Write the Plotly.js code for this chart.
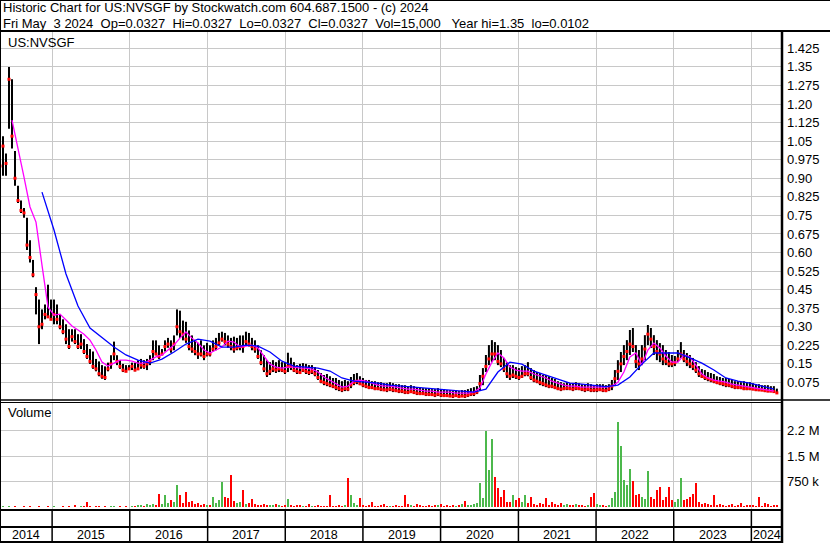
<!DOCTYPE html>
<html><head><meta charset="utf-8">
<script src="https://cdn.plot.ly/plotly-3.0.1.min.js"></script>
<style>html,body{margin:0;padding:0;background:#fff;}#chart{width:830px;height:543px;}</style>
</head><body><div id="chart"></div>
<script>
// ---------- text ----------
const symbolLabel = 'US:NVSGF';
const titleLine1 = 'Historic Chart for US:NVSGF by Stockwatch.com 604.687.1500 - (c) 2024';
const titleLine2 = 'Fri May  3 2024  Op=0.0327  Hi=0.0327  Lo=0.0327  Cl=0.0327  Vol=15,000   Year hi=1.35  lo=0.0102';
const volumeLabel = 'Volume';

// ---------- sampling grid (one bar per ~2 weeks) ----------
const startDate = '2014-05-01';
const stepDays = 14.1;

// ---------- price data (US$) ----------
const high = [
1.10,1.07,1.00,1.35,1.30,1.01,0.87,0.81,0.78,0.74,
0.65,0.57,0.46,0.41,0.37,0.39,0.47,0.41,0.41,0.39,
0.35,0.33,0.31,0.29,0.29,0.29,0.27,0.27,0.25,0.23,
0.21,0.20,0.17,0.16,0.145,0.14,0.155,0.185,0.24,0.185,
0.165,0.15,0.145,0.145,0.155,0.155,0.165,0.17,0.165,0.17,
0.185,0.245,0.245,0.225,0.21,0.245,0.255,0.245,0.265,0.37,
0.365,0.325,0.32,0.285,0.265,0.245,0.235,0.245,0.225,0.235,
0.225,0.245,0.255,0.275,0.28,0.275,0.265,0.255,0.26,0.255,
0.265,0.265,0.28,0.275,0.255,0.245,0.225,0.205,0.185,0.165,
0.157,0.165,0.157,0.165,0.157,0.157,0.195,0.175,0.157,0.145,
0.15,0.153,0.15,0.145,0.145,0.137,0.125,0.113,0.105,0.109,
0.10,0.093,0.093,0.085,0.08,0.085,0.08,0.097,0.109,0.113,
0.10,0.093,0.085,0.085,0.08,0.08,0.076,0.076,0.072,0.072,
0.076,0.072,0.068,0.068,0.064,0.064,0.06,0.064,0.06,0.056,
0.056,0.052,0.052,0.052,0.048,0.048,0.052,0.048,0.048,0.044,
0.044,0.04,0.044,0.04,0.044,0.044,0.048,0.052,0.056,0.06,
0.105,0.133,0.186,0.226,0.246,0.238,0.226,0.206,0.174,0.157,
0.145,0.145,0.137,0.133,0.141,0.145,0.157,0.133,0.125,0.117,
0.113,0.105,0.105,0.10,0.093,0.089,0.08,0.076,0.072,0.076,
0.072,0.072,0.076,0.072,0.068,0.068,0.072,0.068,0.064,0.068,
0.068,0.068,0.064,0.068,0.085,0.125,0.165,0.198,0.226,0.246,
0.287,0.295,0.226,0.206,0.226,0.266,0.307,0.295,0.266,0.246,
0.234,0.226,0.206,0.198,0.186,0.182,0.206,0.238,0.206,0.194,
0.186,0.174,0.157,0.141,0.129,0.125,0.117,0.113,0.109,0.10,
0.097,0.093,0.093,0.089,0.085,0.08,0.08,0.076,0.08,0.076,
0.076,0.072,0.068,0.068,0.064,0.064,0.064,0.06,0.06,0.05
];
const low = [
0.90,0.91,0.91,1.10,1.02,0.87,0.80,0.76,0.74,0.61,
0.56,0.50,0.35,0.23,0.29,0.33,0.34,0.33,0.31,0.31,
0.29,0.27,0.23,0.21,0.24,0.23,0.21,0.21,0.19,0.17,
0.15,0.13,0.12,0.10,0.09,0.085,0.12,0.13,0.165,0.145,
0.13,0.117,0.117,0.125,0.125,0.12,0.125,0.13,0.13,0.125,
0.145,0.165,0.185,0.17,0.185,0.20,0.215,0.195,0.205,0.265,
0.255,0.245,0.235,0.205,0.195,0.185,0.17,0.18,0.165,0.18,
0.18,0.20,0.205,0.225,0.24,0.225,0.215,0.205,0.195,0.205,
0.205,0.195,0.225,0.22,0.205,0.195,0.17,0.145,0.117,0.097,
0.105,0.117,0.113,0.117,0.117,0.109,0.117,0.125,0.117,0.109,
0.109,0.117,0.109,0.105,0.109,0.10,0.085,0.072,0.064,0.06,
0.056,0.052,0.044,0.04,0.036,0.04,0.04,0.052,0.064,0.068,
0.064,0.056,0.052,0.048,0.048,0.044,0.044,0.04,0.04,0.036,
0.04,0.036,0.036,0.032,0.032,0.028,0.028,0.032,0.028,0.024,
0.024,0.024,0.02,0.02,0.02,0.016,0.02,0.016,0.016,0.016,
0.016,0.012,0.016,0.012,0.016,0.012,0.016,0.02,0.02,0.028,
0.044,0.064,0.117,0.145,0.157,0.165,0.145,0.137,0.117,0.093,
0.085,0.093,0.089,0.085,0.093,0.10,0.10,0.085,0.076,0.072,
0.064,0.06,0.056,0.052,0.052,0.048,0.044,0.04,0.044,0.044,
0.044,0.04,0.044,0.044,0.04,0.036,0.04,0.036,0.036,0.036,
0.04,0.036,0.036,0.04,0.044,0.06,0.085,0.117,0.145,0.165,
0.186,0.198,0.133,0.125,0.145,0.165,0.226,0.214,0.186,0.165,
0.157,0.145,0.145,0.137,0.137,0.141,0.157,0.174,0.157,0.141,
0.133,0.125,0.113,0.097,0.093,0.085,0.08,0.076,0.072,0.068,
0.064,0.06,0.056,0.056,0.052,0.048,0.048,0.048,0.044,0.044,
0.044,0.044,0.04,0.04,0.04,0.036,0.036,0.036,0.036,0.0327
];
const close = [
0.95,1.03,0.96,1.30,1.07,0.90,0.81,0.77,0.76,0.63,
0.58,0.51,0.43,0.30,0.31,0.35,0.34,0.33,0.35,0.33,
0.30,0.28,0.25,0.22,0.26,0.24,0.22,0.23,0.20,0.18,
0.16,0.14,0.13,0.11,0.10,0.095,0.13,0.15,0.19,0.16,
0.14,0.125,0.12,0.13,0.14,0.125,0.13,0.145,0.14,0.15,
0.16,0.20,0.19,0.18,0.19,0.22,0.23,0.21,0.23,0.30,
0.28,0.27,0.25,0.22,0.21,0.20,0.19,0.19,0.18,0.19,
0.19,0.21,0.22,0.235,0.25,0.24,0.23,0.22,0.21,0.215,
0.22,0.22,0.24,0.23,0.22,0.21,0.18,0.155,0.13,0.11,
0.12,0.13,0.125,0.13,0.125,0.12,0.14,0.14,0.125,0.12,
0.115,0.125,0.12,0.115,0.12,0.11,0.095,0.08,0.075,0.07,
0.065,0.06,0.055,0.05,0.045,0.05,0.048,0.065,0.075,0.08,
0.07,0.065,0.06,0.055,0.055,0.05,0.05,0.048,0.045,0.045,
0.048,0.045,0.042,0.04,0.04,0.036,0.035,0.038,0.035,0.032,
0.03,0.03,0.028,0.027,0.026,0.024,0.028,0.024,0.022,0.022,
0.02,0.02,0.022,0.018,0.02,0.02,0.024,0.028,0.03,0.036,
0.07,0.10,0.14,0.17,0.19,0.19,0.16,0.15,0.13,0.11,
0.10,0.105,0.10,0.095,0.10,0.11,0.11,0.095,0.085,0.08,
0.075,0.07,0.065,0.06,0.06,0.055,0.05,0.048,0.05,0.052,
0.05,0.048,0.052,0.05,0.048,0.045,0.048,0.044,0.044,0.045,
0.046,0.044,0.042,0.048,0.06,0.09,0.12,0.15,0.18,0.20,
0.23,0.22,0.16,0.15,0.17,0.21,0.27,0.25,0.22,0.20,
0.19,0.17,0.16,0.15,0.15,0.155,0.17,0.19,0.17,0.16,
0.15,0.14,0.125,0.11,0.10,0.095,0.09,0.085,0.08,0.075,
0.072,0.07,0.066,0.064,0.06,0.056,0.055,0.054,0.05,0.05,
0.05,0.048,0.046,0.045,0.044,0.042,0.04,0.04,0.038,0.0327
];
// ---------- volume (millions of shares) ----------
const volumeM = [
0.02,0.03,0.02,0.04,0.02,0.03,0.02,0.02,0.03,0.02,
0.03,0.02,0.02,0.03,0.02,0.02,0.03,0.02,0.04,0.02,
0.02,0.03,0.02,0.04,0.02,0.08,0.02,0.03,0.03,0.15,
0.03,0.02,0.04,0.03,0.02,0.03,0.02,0.04,0.03,0.02,
0.03,0.02,0.03,0.02,0.04,0.05,0.06,0.08,0.05,0.10,
0.08,0.10,0.06,0.40,0.10,0.35,0.12,0.20,0.15,0.65,
0.37,0.12,0.45,0.15,0.17,0.10,0.12,0.08,0.10,0.06,
0.08,0.30,0.12,0.20,0.75,0.30,0.27,0.93,0.17,0.12,
0.15,0.50,0.10,0.12,0.23,0.10,0.08,0.06,0.10,0.08,
0.06,0.08,0.10,0.06,0.05,0.08,0.23,0.06,0.05,0.08,
0.06,0.05,0.05,0.10,0.04,0.05,0.06,0.05,0.05,0.05,
0.37,0.05,0.05,0.06,0.05,0.08,0.87,0.37,0.12,0.08,
0.27,0.06,0.05,0.08,0.15,0.05,0.04,0.06,0.10,0.05,
0.04,0.05,0.06,0.04,0.05,0.35,0.10,0.08,0.04,0.10,
0.06,0.05,0.04,0.06,0.05,0.08,0.06,0.10,0.05,0.06,
0.05,0.06,0.05,0.08,0.10,0.17,0.06,0.08,0.10,0.12,
0.70,0.26,2.23,1.10,2.00,0.90,0.55,0.30,0.52,0.15,
0.15,0.37,0.20,0.26,0.15,0.35,0.12,0.30,0.10,0.08,
0.12,0.10,0.28,0.08,0.15,0.10,0.06,0.12,0.08,0.10,
0.08,0.06,0.10,0.06,0.08,0.05,0.08,0.30,0.43,0.10,
0.06,0.08,0.05,0.06,0.26,0.46,2.50,1.80,0.80,0.65,
1.13,0.78,0.35,0.40,0.30,0.25,1.05,0.30,0.25,0.50,
0.58,0.20,0.30,0.58,0.20,0.15,0.25,0.87,0.20,0.25,
0.30,0.40,0.70,0.15,0.10,0.12,0.10,0.08,0.35,0.08,
0.10,0.06,0.05,0.08,0.10,0.05,0.06,0.12,0.05,0.06,
0.08,0.06,0.05,0.30,0.05,0.12,0.10,0.05,0.08,0.06
];
// ---------- moving averages ----------
const maFastStart = 4, maFastEvery = 2;   // pink line
const maFast = [
1.135,1.026,0.905,0.784,0.723,0.549,0.380,0.347,0.351,0.327,
0.303,0.287,0.270,0.246,0.206,0.157,0.141,0.153,0.165,0.165,
0.161,0.153,0.153,0.165,0.178,0.186,0.206,0.226,0.254,0.279,
0.254,0.234,0.206,0.194,0.206,0.218,0.242,0.238,0.218,0.222,
0.226,0.214,0.182,0.149,0.137,0.133,0.137,0.137,0.133,0.133,
0.129,0.117,0.097,0.084,0.068,0.056,0.060,0.080,0.084,0.080,
0.072,0.064,0.060,0.060,0.056,0.052,0.048,0.048,0.044,0.040,
0.040,0.036,0.036,0.036,0.032,0.032,0.032,0.036,0.052,0.109,
0.157,0.194,0.174,0.137,0.125,0.121,0.121,0.109,0.101,0.093,
0.080,0.072,0.064,0.060,0.060,0.056,0.056,0.056,0.056,0.056,
0.060,0.076,0.117,0.178,0.194,0.145,0.206,0.234,0.214,0.182,
0.157,0.157,0.186,0.178,0.145,0.109,0.093,0.084,0.080,0.076,
0.068,0.064,0.060,0.056,0.052,0.048,0.044,0.040
];
const maSlowStart = 14, maSlowEvery = 4;  // blue line
const maSlow = [
0.844,0.691,0.513,0.384,0.295,0.258,0.218,0.186,0.165,0.153,
0.169,0.198,0.230,0.250,0.242,0.218,0.218,0.226,0.222,0.198,
0.161,0.141,0.137,0.133,0.121,0.093,0.080,0.076,0.072,0.064,
0.060,0.056,0.052,0.048,0.044,0.040,0.036,0.048,0.117,0.157,
0.149,0.121,0.105,0.089,0.072,0.068,0.062,0.058,0.064,0.097,
0.149,0.194,0.194,0.194,0.174,0.153,0.125,0.093,0.080,0.072,
0.060,0.048
];
// ---------- axes ----------
const yearTicks = ['2015-01-01','2016-01-01','2017-01-01','2018-01-01','2019-01-01',
                   '2020-01-01','2021-01-01','2022-01-01','2023-01-01','2024-01-01'];
const yearLabels = ['2014','2015','2016','2017','2018','2019','2020','2021','2022','2023','2024'];
const priceTicks = [0.075,0.15,0.225,0.30,0.375,0.45,0.525,0.60,0.675,0.75,0.825,0.90,0.975,1.05,1.125,1.20,1.275,1.35,1.425];
const priceTickText = ['0.075','0.15','0.225','0.30','0.375','0.45','0.525','0.60','0.675','0.75','0.825','0.90','0.975','1.05','1.125','1.20','1.275','1.35','1.425'];
const volTicks = [0.75,1.5,2.25];
const volTickText = ['750 k','1.5 M','2.2 M'];

// ---------- build ----------
const W = 830, H = 543;
const DAY = 864e5;
const t0 = Date.parse(startDate + 'T00:00:00Z');
const pxPerDay = 77.7 / 365.25;
const iso = ms => new Date(ms).toISOString().replace('T',' ').slice(0,19);
const dateMs = close.map((_, i) => t0 + i * stepDays * DAY);
const dates = dateMs.map(iso);
const plotRightPx = 782;
const xRange = [iso(t0), iso(t0 + plotRightPx / pxPerDay * DAY)];
const px = v => v / W;
const py = v => 1 - v / H;
const FONT = 'Liberation Sans, Arial, sans-serif';

const hlX = [], hlY = [];
dates.forEach((d, i) => { hlX.push(d, d, null); hlY.push(low[i], high[i], null); });

const volColors = volumeM.map((v, i) => (i > 0 && close[i] > close[i-1]) ? '#4cb84c' : '#ff0000');

const fastX = maFast.map((_, k) => dates[maFastStart + k * maFastEvery]);
const slowX = maSlow.map((_, k) => dates[maSlowStart + k * maSlowEvery]);

const traces = [
  {type:'scatter', mode:'lines', x:hlX, y:hlY, line:{color:'#000000', width:2}, hoverinfo:'skip', xaxis:'x', yaxis:'y'},
  {type:'scatter', mode:'markers', x:dates, y:close, marker:{symbol:'square', size:3, color:'#ff0000'}, hoverinfo:'skip', xaxis:'x', yaxis:'y'},
  {type:'scatter', mode:'lines', x:fastX, y:maFast, line:{color:'#ff00ff', width:1.3}, hoverinfo:'skip', xaxis:'x', yaxis:'y'},
  {type:'scatter', mode:'lines', x:slowX, y:maSlow, line:{color:'#0000ff', width:1.3}, hoverinfo:'skip', xaxis:'x', yaxis:'y'},
  {type:'bar', x:dates, y:volumeM, width: 9 * DAY, marker:{color:volColors, line:{width:0}}, hoverinfo:'skip', xaxis:'x2', yaxis:'y2'}
];

const gridC = '#c8c8c8';
const xCommon = {type:'date', range:xRange, domain:[0, px(plotRightPx)], tickmode:'array', tickvals:yearTicks,
  showticklabels:false, ticks:'', showgrid:true, gridcolor:gridC, gridwidth:1, zeroline:false, showline:false, fixedrange:true};
const layout = {
  width:W, height:H, margin:{l:0,r:0,t:0,b:0,pad:0},
  paper_bgcolor:'#ffffff', plot_bgcolor:'#ffffff', showlegend:false, bargap:0,
  font:{family:FONT, size:13, color:'#000'},
  xaxis: Object.assign({}, xCommon, {anchor:'y'}),
  xaxis2: Object.assign({}, xCommon, {anchor:'y2', matches:'x'}),
  yaxis: {domain:[py(401), py(31)], range:[0, 1.495], side:'right', tickmode:'array', tickvals:priceTicks, ticktext:priceTickText,
    ticks:'', ticklabelstandoff:4, showgrid:true, gridcolor:gridC, gridwidth:1, zeroline:false, showline:false,
    tickfont:{family:FONT, size:13, color:'#000'}, fixedrange:true},
  yaxis2: {domain:[py(509), py(403)], range:[-0.05, 3.05], side:'right', tickmode:'array', tickvals:volTicks, ticktext:volTickText,
    ticks:'', ticklabelstandoff:4, showgrid:true, gridcolor:gridC, gridwidth:1, zeroline:false, showline:false,
    tickfont:{family:FONT, size:13, color:'#000'}, fixedrange:true},
  shapes: [],
  annotations: []
};

const hline = (y, x0, x1, w) => ({type:'line', xref:'paper', yref:'paper', x0:px(x0), x1:px(x1), y0:py(y), y1:py(y), line:{color:'#000', width:w}});
const vline = (x, y0, y1, w) => ({type:'line', xref:'paper', yref:'paper', x0:px(x), x1:px(x), y0:py(y0), y1:py(y1), line:{color:'#000', width:w}});
layout.shapes.push(
  hline(0.5, 0, W, 1),
  vline(0.5, 0, H, 1),
  hline(31, 0, W, 2),
  hline(400, 0, W, 1.5),
  hline(402.5, 0, plotRightPx, 1),
  hline(510, 0, plotRightPx, 2),
  hline(527, 0, plotRightPx, 2),
  hline(542, 0, plotRightPx, 2),
  vline(plotRightPx, 31, H, 2.5)
);
yearTicks.forEach(t => layout.shapes.push({type:'line', xref:'x', yref:'paper', x0:t, x1:t, y0:py(H), y1:py(510), line:{color:'#000', width:1.5}}));

const ann = (text, x, y, size, xanchor) => ({text, xref:'paper', yref:'paper', x:px(x), y:py(y), xanchor:xanchor||'left', yanchor:'middle',
  showarrow:false, borderpad:0, font:{family:FONT, size:size, color:'#000'}});
const nb = s => s.replace(/ /g, '\u00a0');
layout.annotations.push(
  ann(nb(titleLine1), 2, 8, 13),
  ann(nb(titleLine2), 2, 23.5, 13),
  ann(symbolLabel, 7, 42, 13),
  ann(volumeLabel, 7, 413, 13)
);
// year labels centred in each visible year span
const bounds = [Date.parse(xRange[0].replace(' ','T')+'Z')].concat(yearTicks.map(t => Date.parse(t+'T00:00:00Z'))).concat([Date.parse(xRange[1].replace(' ','T')+'Z')]);
yearLabels.forEach((lab, k) => {
  const mid = (bounds[k] + bounds[k+1]) / 2;
  layout.annotations.push({text:lab, xref:'x', yref:'paper', x:iso(mid), y:py(534.5), xanchor:'center', yanchor:'middle',
    showarrow:false, borderpad:0, font:{family:FONT, size:12.5, color:'#000'}});
});

Plotly.newPlot('chart', traces, layout, {staticPlot:true, displayModeBar:false});
</script>
</body></html>
